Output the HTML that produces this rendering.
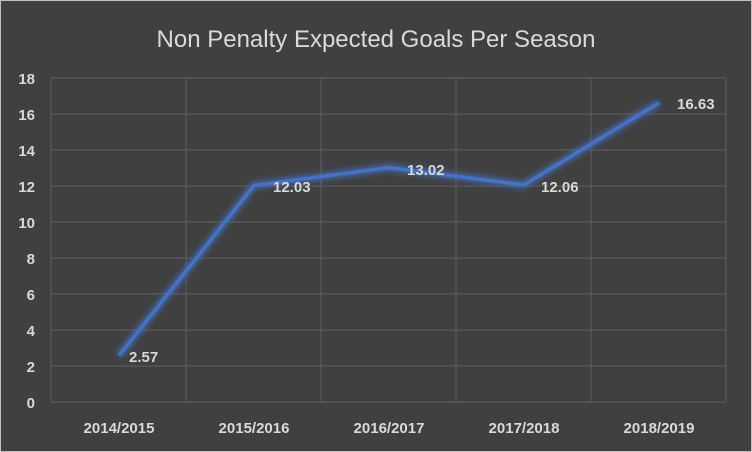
<!DOCTYPE html><html><head><style>body{margin:0;background:#404040}svg{display:block}</style></head><body>
<svg width="752" height="452" xmlns="http://www.w3.org/2000/svg" font-family="Liberation Sans, sans-serif">
<defs><filter id="g" x="-20%" y="-20%" width="140%" height="140%"><feGaussianBlur stdDeviation="3"/></filter></defs>
<rect x="0.5" y="0.5" width="751" height="451" fill="#404040" stroke="#bfbfbf"/>
<text x="376" y="47" text-anchor="middle" font-size="24" fill="#d9d9d9">Non Penalty Expected Goals Per Season</text>
<g stroke="#595959" stroke-width="1.3" fill="none">
<path d="M51 78H726M51 114H726M51 150H726M51 186H726M51 222H726M51 258H726M51 294H726M51 330H726M51 366H726M51 402H726"/>
<path d="M51 78V402M186 78V402M321 78V402M456 78V402M591 78V402M726 78V402"/>
</g>
<g font-size="15" font-weight="bold" fill="#d9d9d9" text-anchor="end">
<text x="35" y="84">18</text><text x="35" y="120">16</text><text x="35" y="156">14</text><text x="35" y="192">12</text><text x="35" y="228">10</text><text x="35" y="264">8</text><text x="35" y="300">6</text><text x="35" y="336">4</text><text x="35" y="372">2</text><text x="35" y="408">0</text>
</g>
<g font-size="15" font-weight="bold" fill="#d9d9d9" text-anchor="middle">
<text x="119" y="433">2014/2015</text><text x="254" y="433">2015/2016</text><text x="389" y="433">2016/2017</text><text x="524" y="433">2017/2018</text><text x="659" y="433">2018/2019</text>
</g>
<polyline points="119,355.7 254,185.5 389,167.6 524,184.9 659,102.7" fill="none" stroke="#4472c4" stroke-width="7" opacity="0.8" filter="url(#g)"/>
<polyline points="119,355.7 254,185.5 389,167.6 524,184.9 659,102.7" fill="none" stroke="#4472c4" stroke-width="3.5" stroke-linejoin="round"/>
<g font-size="15" font-weight="bold" fill="#d9d9d9">
<text x="129" y="362">2.57</text><text x="273" y="192">12.03</text><text x="407" y="175">13.02</text><text x="541" y="192">12.06</text><text x="677" y="109">16.63</text>
</g>
</svg></body></html>
